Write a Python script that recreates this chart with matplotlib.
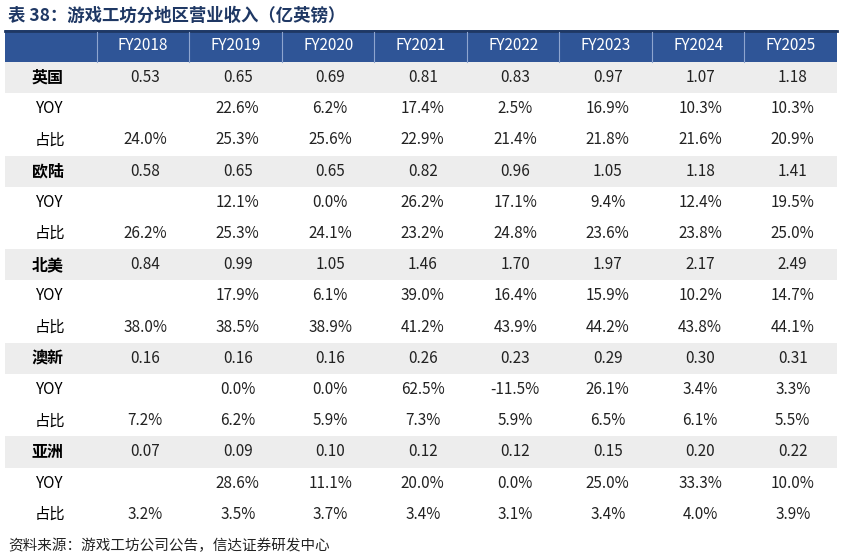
import matplotlib.pyplot as plt
from matplotlib.patches import Rectangle

plt.rcParams['font.family'] = ['Noto Sans CJK SC', 'DejaVu Sans']

years = ['FY2018', 'FY2019', 'FY2020', 'FY2021', 'FY2022', 'FY2023', 'FY2024', 'FY2025']
regions = ['英国', '欧陆', '北美', '澳新', '亚洲']
revenue = [
    ['0.53', '0.65', '0.69', '0.81', '0.83', '0.97', '1.07', '1.18'],
    ['0.58', '0.65', '0.65', '0.82', '0.96', '1.05', '1.18', '1.41'],
    ['0.84', '0.99', '1.05', '1.46', '1.70', '1.97', '2.17', '2.49'],
    ['0.16', '0.16', '0.16', '0.26', '0.23', '0.29', '0.30', '0.31'],
    ['0.07', '0.09', '0.10', '0.12', '0.12', '0.15', '0.20', '0.22'],
]
yoy = [
    ['', '22.6%', '6.2%', '17.4%', '2.5%', '16.9%', '10.3%', '10.3%'],
    ['', '12.1%', '0.0%', '26.2%', '17.1%', '9.4%', '12.4%', '19.5%'],
    ['', '17.9%', '6.1%', '39.0%', '16.4%', '15.9%', '10.2%', '14.7%'],
    ['', '0.0%', '0.0%', '62.5%', '-11.5%', '26.1%', '3.4%', '3.3%'],
    ['', '28.6%', '11.1%', '20.0%', '0.0%', '25.0%', '33.3%', '10.0%'],
]
share = [
    ['24.0%', '25.3%', '25.6%', '22.9%', '21.4%', '21.8%', '21.6%', '20.9%'],
    ['26.2%', '25.3%', '24.1%', '23.2%', '24.8%', '23.6%', '23.8%', '25.0%'],
    ['38.0%', '38.5%', '38.9%', '41.2%', '43.9%', '44.2%', '43.8%', '44.1%'],
    ['7.2%', '6.2%', '5.9%', '7.3%', '5.9%', '6.5%', '6.1%', '5.5%'],
    ['3.2%', '3.5%', '3.7%', '3.4%', '3.1%', '3.4%', '4.0%', '3.9%'],
]

W, H = 841, 560
fig = plt.figure(figsize=(W / 100, H / 100), dpi=100)
ax = fig.add_axes([0, 0, 1, 1])
ax.set_xlim(0, W)
ax.set_ylim(H, 0)
ax.axis('off')

x0, x1 = 5, 837
label_w = 92
col_w = (x1 - x0 - label_w) / len(years)
head_top, head_bot = 30, 62
row_h = (530 - head_bot) / 15

ax.text(8, 16, '表 38：游戏工坊分地区营业收入（亿英镑）', fontsize=12.5, fontweight='bold',
        color='#1F3864', va='center', ha='left')

# header
ax.add_patch(Rectangle((x0, head_top), x1 - x0, head_bot - head_top, color='#2F5597', lw=0))
ax.plot([x0, x1], [head_top + 1, head_top + 1], color='#1F3864', lw=2)
for i, y in enumerate(years):
    left = x0 + label_w + i * col_w
    ax.plot([left, left], [head_top + 2, head_bot], color='#8EA5CF', lw=0.8)
    ax.text(left + col_w / 2, (head_top + head_bot) / 2, y, color='white', fontsize=11,
            ha='center', va='center')

r = 0
for k, reg in enumerate(regions):
    for kind, vals in (('reg', revenue[k]), ('YOY', yoy[k]), ('占比', share[k])):
        top = head_bot + r * row_h
        cy = top + row_h / 2
        if kind == 'reg':
            ax.add_patch(Rectangle((x0, top), x1 - x0, row_h, color='#EDEDED', lw=0))
            ax.text(x0 + 43, cy, reg, fontsize=11.5, fontweight='bold', ha='center', va='center')
        else:
            ax.text(x0 + 45, cy, kind, fontsize=11, ha='center', va='center')
        for i, v in enumerate(vals):
            ax.text(x0 + label_w + (i + 0.5) * col_w + 2, cy, v, fontsize=11,
                    ha='center', va='center', color='#222222')
        r += 1

ax.text(8, 546, '资料来源：游戏工坊公司公告，信达证券研发中心', fontsize=10.5, style='italic',
        ha='left', va='center', color='#222222')

fig.savefig('out.png', dpi=100)
